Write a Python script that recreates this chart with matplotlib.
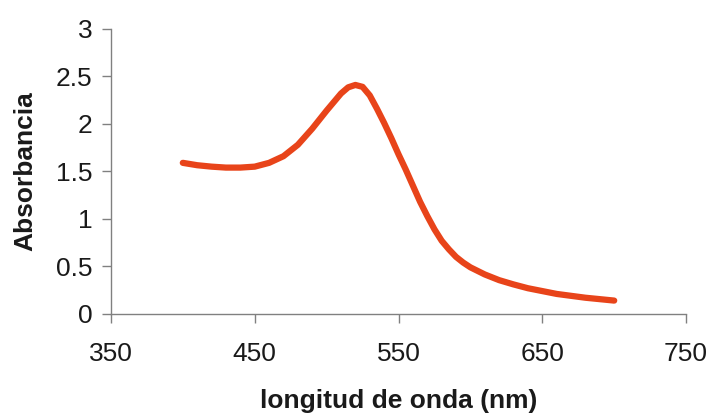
import matplotlib
matplotlib.use("Agg")
import matplotlib.pyplot as plt

plt.rcParams['font.family'] = ['Liberation Sans', 'DejaVu Sans']

# absorbance spectrum
wavelength = [400, 410, 420, 430, 440, 450, 460, 470, 480, 490, 500, 505, 510,
              515, 520, 525, 530, 535, 540, 545, 550, 555, 560, 565, 570, 575,
              580, 585, 590, 595, 600, 610, 620, 630, 640, 650, 660, 670, 680,
              690, 700]
absorbance = [1.59, 1.565, 1.55, 1.54, 1.54, 1.55, 1.59, 1.66, 1.78, 1.95, 2.14,
              2.23, 2.32, 2.385, 2.41, 2.39, 2.30, 2.16, 2.01, 1.85, 1.68, 1.52,
              1.35, 1.18, 1.03, 0.89, 0.77, 0.68, 0.60, 0.54, 0.49, 0.415, 0.355,
              0.31, 0.27, 0.24, 0.21, 0.19, 0.17, 0.155, 0.14]

fig = plt.figure(figsize=(7.11, 4.13), dpi=100)
ax = fig.add_axes([0.156, 0.240, 0.809, 0.690])

ax.plot(wavelength, absorbance, color='#e8441a', lw=4.5, solid_capstyle='round',
        solid_joinstyle='round')

ax.set_xlim(350, 750)
ax.set_ylim(0, 3)
ax.set_xticks([350, 450, 550, 650, 750])
ax.set_yticks([0, 0.5, 1, 1.5, 2, 2.5, 3])
ax.set_yticklabels(['0', '0.5', '1', '1.5', '2', '2.5', '3'])

for s in ['top', 'right']:
    ax.spines[s].set_visible(False)
for s in ['left', 'bottom']:
    ax.spines[s].set_color('#808080')
    ax.spines[s].set_linewidth(1.0)

ax.tick_params(axis='both', colors='#808080', labelcolor='#1a1a1a',
               labelsize=19, length=6.5, width=1.0)
ax.tick_params(axis='x', pad=14)
ax.tick_params(axis='y', pad=7)

ax.set_xlabel('longitud de onda (nm)', fontsize=19, fontweight='bold',
              color='#1a1a1a')
ax.set_ylabel('Absorbancia', fontsize=19, fontweight='bold', color='#1a1a1a')
ax.xaxis.set_label_coords(0.5, -0.265)
ax.yaxis.set_label_coords(-0.128, 0.5)

fig.savefig('out.png', dpi=100)
